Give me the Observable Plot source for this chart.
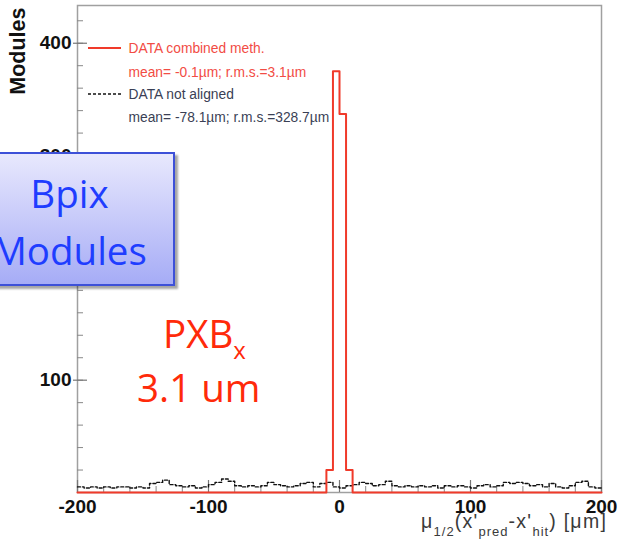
<!DOCTYPE html>
<html><head><meta charset="utf-8">
<script src="https://cdn.jsdelivr.net/npm/d3@7"></script>
<script src="https://cdn.jsdelivr.net/npm/@observablehq/plot@0.6"></script>
<style>
body{margin:0;background:#fff;}
#wrap{position:relative;width:622px;height:541px;overflow:hidden;font-family:"Liberation Sans",Arial,sans-serif;}
.ov{position:absolute;white-space:nowrap;}
#box{position:absolute;left:-40px;top:152px;width:211px;height:130px;border:2px solid #3d50d8;
 background:linear-gradient(#e8e8fd,#a6acf6);box-shadow:3px 3px 2px rgba(0,0,0,0.35);}
.big{font-family:"Open Sans",sans-serif;font-size:38.5px;line-height:38px;}
#xt{font-size:19.5px;line-height:19px;color:#3a3a3a;letter-spacing:1.3px;}
#xt sub{font-size:13px;vertical-align:-8px;line-height:0;letter-spacing:1px;}
</style></head><body><div id="wrap"></div>
<script>
// bin lower edges, µm (5 µm bins from -200 to 200)
const binStarts = d3.range(-200, 200, 5);
// "DATA combined meth." counts per bin
const combinedCounts = [
  0,0,0,0,0,0,0,0,0,0, 0,0,0,0,0,0,0,0,0,0,
  0,0,0,0,0,0,0,0,0,0, 0,0,0,0,0,0,0,0,20,375,
  337,20,0,0,0,0,0,0,0,0, 0,0,0,0,0,0,0,0,0,0,
  0,0,0,0,0,0,0,0,0,0, 0,0,0,0,0,0,0,0,0,0
];
// "DATA not aligned" counts per bin
const notAlignedCounts = [
  5,4,5,4,5,4,5,5,4,5, 4,8,9,11,7,6,5,6,4,5,
  7,9,12,10,6,5,6,5,6,9, 7,6,5,6,8,9,5,8,9,5,
  4,6,7,9,8,6,7,10,6,5, 6,5,6,5,6,4,6,5,6,5,
  4,6,7,5,6,9,8,9,8,6, 7,5,8,5,4,6,9,10,5,4
];
const xTickLabels = [-200, -100, 0, 100, 200];
const xMinor = d3.range(-200, 201, 20);
const yTickLabels = [100, 200, 300, 400];
const yMinor = d3.range(20, 433, 20);
const legendLabels = ["DATA combined meth.", "mean= -0.1\u00b5m; r.m.s.=3.1\u00b5m", "DATA not aligned", "mean= -78.1\u00b5m; r.m.s.=328.7\u00b5m"];

function stepData(counts){
  const pts = binStarts.map((b,i)=>({x:b, y:counts[i]}));
  pts.push({x:200, y:counts[counts.length-1]});
  return pts;
}
const W=622, H=541, mL=77, mR=21, mT=5, mB=49;
const pw = W-mL-mR, ph = H-mT-mB;

const plot = Plot.plot({
  width: W, height: H,
  marginLeft: mL, marginRight: mR, marginTop: mT, marginBottom: mB,
  x: {domain: [-200, 200], axis: null},
  y: {domain: [0, 433.6], axis: null},
  style: {fontFamily: "Liberation Sans, Arial, sans-serif", background: "#fff"},
  marks: [
    Plot.frame({stroke: "#a0a0a0", strokeWidth: 1.5}),
    Plot.tickY(yMinor, {y: d=>d, insetRight: pw-6, stroke: "#888"}),
    Plot.tickY(yTickLabels, {y: d=>d, insetRight: pw-10, insetLeft: -4, stroke: "#777", strokeWidth: 1.2}),
    Plot.tickX(xMinor, {x: d=>d, insetTop: ph-6, stroke: "#888"}),
    Plot.tickX(xTickLabels, {x: d=>d, insetTop: ph-12, stroke: "#777", strokeWidth: 1.2}),
    Plot.line(stepData(notAlignedCounts), {x:"x", y:"y", curve:"step-after", stroke:"#111", strokeWidth:1.4, strokeDasharray:"3,2"}),
    Plot.line(stepData(combinedCounts), {x:"x", y:"y", curve:"step-after", stroke:"#f03a2a", strokeWidth:2}),
    Plot.text(yTickLabels, {y: d=>d, text: d=>String(d), frameAnchor:"left", dx:-6, textAnchor:"end", fontSize:19, fontWeight:"bold", fill:"#111"}),
    Plot.text(xTickLabels, {x: d=>d, text: d=>String(d), frameAnchor:"bottom", dy:14, lineAnchor:"middle", fontSize:19, fontWeight:"bold", fill:"#111"}),
    Plot.text(["Modules"], {frameAnchor:"top-left", dx:-59, dy:2, rotate:-90, textAnchor:"end", lineAnchor:"middle", fontSize:21.5, fontWeight:"bold", fill:"#111"}),
    Plot.text([legendLabels[0]], {frameAnchor:"top-left", dx:51, dy:43, textAnchor:"start", lineAnchor:"middle", fontSize:13.8, fill:"#f24c44"}),
    Plot.text([legendLabels[1]], {frameAnchor:"top-left", dx:51, dy:67, textAnchor:"start", lineAnchor:"middle", fontSize:13.8, fill:"#f24c44"}),
    Plot.text([legendLabels[2]], {frameAnchor:"top-left", dx:51, dy:89, textAnchor:"start", lineAnchor:"middle", fontSize:13.8, fill:"#3a3f55"}),
    Plot.text([legendLabels[3]], {frameAnchor:"top-left", dx:51, dy:112, textAnchor:"start", lineAnchor:"middle", fontSize:13.8, fill:"#3a3f55"})
  ]
});
const svg = d3.select(plot);
svg.append("line").attr("x1",88).attr("x2",121).attr("y1",48).attr("y2",48).attr("stroke","#f03a2a").attr("stroke-width",2);
svg.append("line").attr("x1",88).attr("x2",121).attr("y1",94).attr("y2",94).attr("stroke","#111").attr("stroke-width",1.4).attr("stroke-dasharray","3,2");
const wrap = document.getElementById("wrap");
wrap.appendChild(plot);
wrap.insertAdjacentHTML("beforeend", `
<div id="box"></div>
<div class="ov big" style="left:-38px;width:215px;text-align:center;top:174px;color:#1f3dff;">Bpix</div>
<div class="ov big" style="left:-38px;width:215px;text-align:center;top:231px;color:#1f3dff;">Modules</div>
<div class="ov big" style="left:163px;top:314px;color:#ff2a0a;">PXB<span style="font-size:24px;position:relative;top:11px;">x</span></div>
<div class="ov big" style="left:137px;top:368px;color:#ff2a0a;">3.1 um</div>
<div class="ov" id="xt" style="left:421px;top:512px;">\u03bc<sub>1/2</sub>(x'<sub>pred</sub>-x'<sub>hit</sub>) [\u03bcm]</div>
`);
</script>
</body></html>
